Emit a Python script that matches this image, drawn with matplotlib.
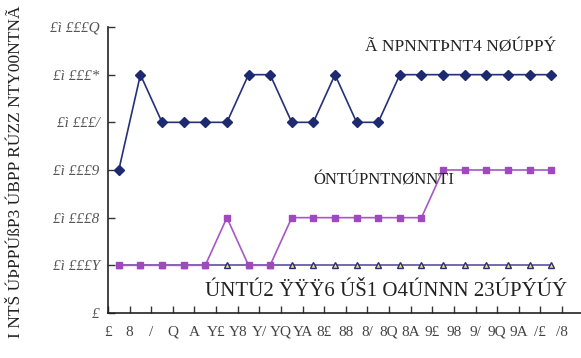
import matplotlib
matplotlib.use("Agg")
import matplotlib.pyplot as plt

# data (labels kept as they appear in the picture)
x_pos = [1, 3, 5, 7, 9, 11, 13, 15, 17, 19, 21, 23, 25, 27, 29, 31, 33, 35, 37, 39, 41]
blue_vals = [0.0003, 0.0005, 0.0004, 0.0004, 0.0004, 0.0004, 0.0005, 0.0005, 0.0004, 0.0004,
             0.0005, 0.0004, 0.0004, 0.0005, 0.0005, 0.0005, 0.0005, 0.0005, 0.0005, 0.0005, 0.0005]
magenta_vals = [0.0001, 0.0001, 0.0001, 0.0001, 0.0001, 0.0002, 0.0001, 0.0001, 0.0002, 0.0002,
                0.0002, 0.0002, 0.0002, 0.0002, 0.0002, 0.0003, 0.0003, 0.0003, 0.0003, 0.0003, 0.0003]
tri_vals = [0.0001, 0.0001, 0.0001, 0.0001, 0.0001, 0.0001, 0.0001, 0.0001, 0.0001, 0.0001,
            0.0001, 0.0001, 0.0001, 0.0001, 0.0001, 0.0001, 0.0001, 0.0001, 0.0001, 0.0001, 0.0001]

xtick_pos = [0, 2, 4, 6, 8, 10, 12, 14, 16, 18, 20, 22, 24, 26, 28, 30, 32, 34, 36, 38, 40, 42, 44]
xtick_labels = ["£", "8", "/", "Q", "A", "Y£", "Y8", "Y/", "YQ", "YA", "8£", "88", "8/", "8Q",
                "8A", "9£", "98", "9/", "9Q", "9A", "/£", "/8", ""]
ytick_pos = [0, 0.0001, 0.0002, 0.0003, 0.0004, 0.0005, 0.0006]
ytick_labels = ["£", "£ì £££Y", "£ì £££8", "£ì £££9", "£ì £££/", "£ì £££*", "£ì £££Q"]

blue_label = "Ã NPNNTÞNT4 NØÚPPÝ"
magenta_label = "ÓNTÚPNTNØNNTI"
tri_label = "ÚNTÚ2 ŸŸŸ6 ÚŠ1 O4ÚNNN 23ÚPÝÚÝ"
y_title = "I NTŠ ÚÞPPÚßP3 ÚBPP RÚZZ NTY00NTNÃ"

fnt = "Liberation Serif"

fig = plt.figure(figsize=(5.81, 3.58), dpi=100)
ax = fig.add_axes([108 / 581, 45 / 358, 481 / 581, 286 / 358])

ax.plot(x_pos, tri_vals, '-', color='#5b4f9e', linewidth=1.2,
        marker='^', markersize=5, markerfacecolor='#e6df6a', markeredgecolor='#2b2f70', zorder=2)
ax.plot(x_pos, magenta_vals, '-', color='#a558c6', linewidth=1.2,
        marker='s', markersize=5, markerfacecolor='#a048c0', markeredgecolor='#a048c0', zorder=3)
ax.plot(x_pos, blue_vals, '-', color='#25307a', linewidth=1.2,
        marker='D', markersize=5, markerfacecolor='#1e2a70', markeredgecolor='#1e2a70', zorder=4)

ax.set_xlim(0, 44.5)
ax.set_ylim(0, 0.0006)
ax.set_xticks(xtick_pos)
ax.set_xticklabels(xtick_labels, fontfamily=fnt, fontsize=11)
ax.set_yticks(ytick_pos)
ax.set_yticklabels(ytick_labels, fontfamily=fnt, fontsize=11, fontstyle='italic')
ax.tick_params(axis='both', direction='in', length=5, width=1, colors='#333333', pad=6)
ax.tick_params(axis='x', labelcolor='#444444', pad=9)
ax.tick_params(axis='y', labelcolor='#555555')
for s in ['top', 'right']:
    ax.spines[s].set_visible(False)
for s in ['left', 'bottom']:
    ax.spines[s].set_color('#222222')
    ax.spines[s].set_linewidth(1.2)

ax.text(23.8, 0.000557, blue_label, fontfamily=fnt, fontsize=12.5, color='#222222',
        ha='left', va='center')
ax.text(19.0, 0.000277, magenta_label, fontfamily=fnt, fontsize=12, color='#222222',
        ha='left', va='center')
ax.text(9.0, 0.0000445, tri_label, fontfamily=fnt, fontsize=15, color='#222222',
        ha='left', va='center')

fig.text(16 / 581, 1 - 172 / 358, y_title, fontfamily=fnt, fontsize=12.5, color='#222222',
         rotation=90, ha='center', va='center')

fig.savefig("out.png", dpi=100)
